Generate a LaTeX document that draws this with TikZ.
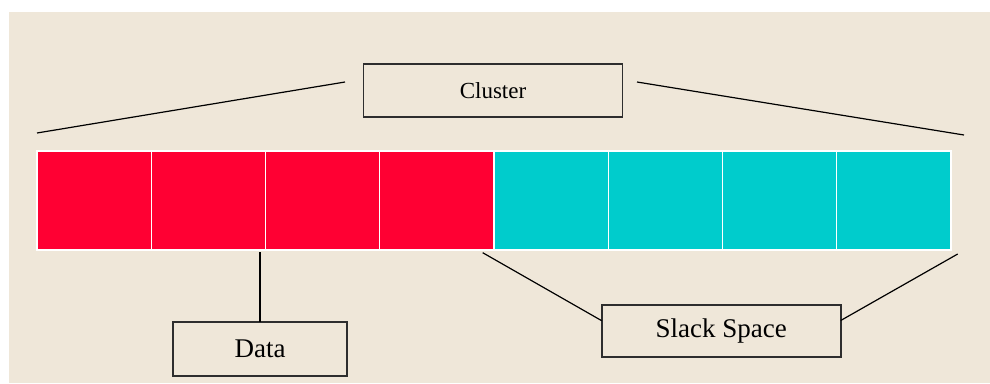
\documentclass[tikz,border=0pt]{standalone}
\usepackage{fontspec}
\setmainfont{Liberation Serif}
\definecolor{bgbeige}{HTML}{EFE7D9}
\definecolor{datared}{HTML}{FF0033}
\definecolor{slackcyan}{HTML}{00CCCC}
\definecolor{boxline}{HTML}{2E2E2E}
\begin{document}
\begin{tikzpicture}[x=1pt,y=-1pt,
  cell/.style={draw=white, line width=1.4pt, minimum width=114.25pt, minimum height=99pt, inner sep=0pt, outer sep=0pt},
  label box/.style={draw=boxline, line width=1.8pt, fill=bgbeige, inner sep=0pt, outer sep=0pt},
  link/.style={draw=black, line width=1.2pt}]
\useasboundingbox (0,0) rectangle (990,383);
\fill[white] (0,0) rectangle (990,383);
\fill[bgbeige] (9,12) rectangle (990,383);
% cells
\foreach \i in {1,...,4} {
  \node[cell, fill=datared] (c\i) at ({37+114.25*(\i-0.5)},200.5) {};
}
\foreach \i in {5,...,8} {
  \node[cell, fill=slackcyan] (c\i) at ({37+114.25*(\i-0.5)},200.5) {};
}
% label boxes
\node[label box, minimum width=259pt, minimum height=52.7pt, font=\fontsize{23}{23}\selectfont] (cluster) at (493,90.3) {Cluster};
\node[label box, minimum width=173.4pt, minimum height=53.4pt, font=\fontsize{27}{27}\selectfont] (data) at (260,349) {Data};
\node[label box, minimum width=239pt, minimum height=52.6pt, font=\fontsize{27}{27}\selectfont] (slack) at (721.2,331) {Slack Space};
% coordinates
\coordinate (cl1) at (37,133);
\coordinate (cl2) at (345,82);
\coordinate (cr1) at (637,82);
\coordinate (cr2) at (964,135);
\coordinate (dtop) at (260,252);
\coordinate (s1) at (482.7,252.7);
\coordinate (s2) at (601.7,320.7);
\coordinate (s3) at (840.7,320.5);
\coordinate (s4) at (957.7,254);
% connectors
\draw[link] (cl1) -- (cl2);
\draw[link] (cr1) -- (cr2);
\draw[link] (dtop) -- (data.north);
\draw[link] (s1) -- (s2);
\draw[link] (s3) -- (s4);
\end{tikzpicture}
\end{document}
